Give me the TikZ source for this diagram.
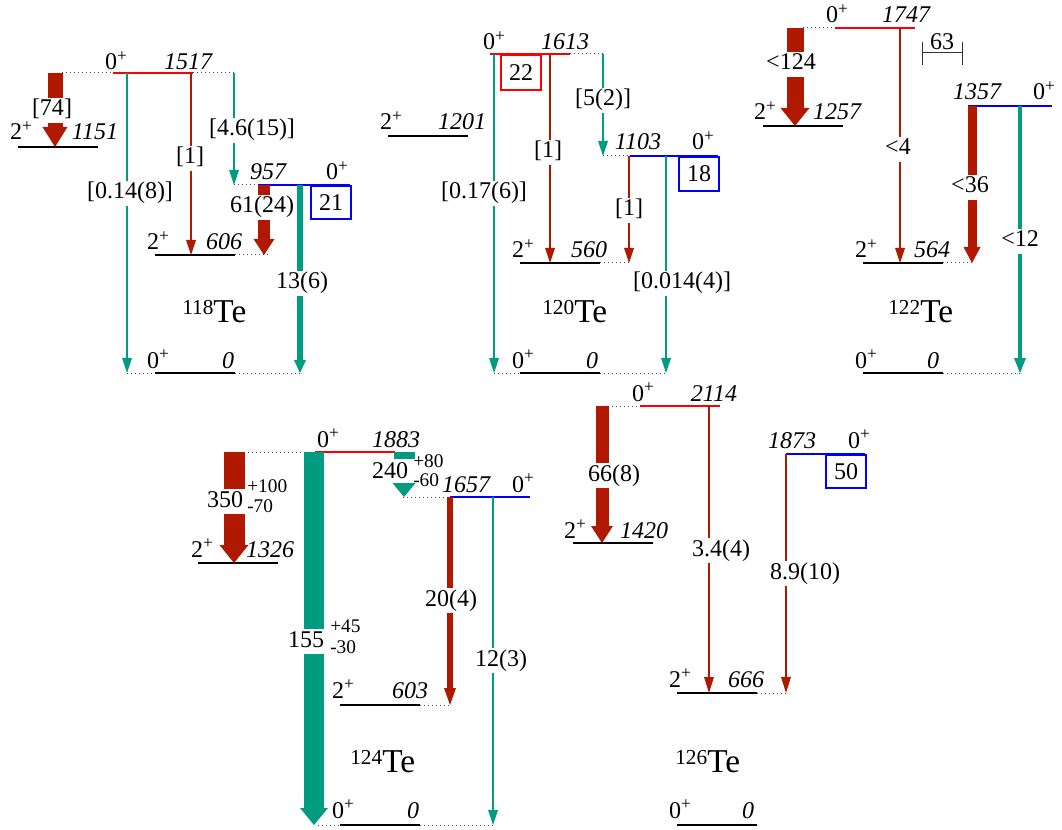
\documentclass[tikz,border=0pt]{standalone}
\usepackage{fontspec}
\setmainfont{Liberation Serif}
\usetikzlibrary{calc}
\definecolor{dred}{RGB}{176,24,0}
\definecolor{gteal}{RGB}{0,155,128}
\definecolor{lred}{RGB}{255,0,0}
\definecolor{lblue}{RGB}{0,0,255}
\newcommand{\lsarrow}[6]{%
  \draw[#1,line width=#4] (#2) -- ($(#3)+(0,-#6+1)$);
  \fill[#1] ($(#3)+(-#5,-#6)$) -- ($(#3)+(#5,-#6)$) -- (#3) -- cycle;}
\newcommand{\plusup}{\raisebox{6.3pt}{\fontsize{13}{13}\selectfont+}}
\newcommand{\Zplus}{0\plusup}
\newcommand{\Tplus}{2\plusup}
\newcommand{\isoTe}[1]{{\fontsize{16}{16}\selectfont\raisebox{6pt}{#1}}{\fontsize{25}{25}\selectfont Te}}
\begin{document}
\begin{tikzpicture}[x=0.75pt,y=-0.75pt,font=\fontsize{18}{20}\selectfont,
  lev/.style={line width=1.5pt},
  blk/.style={lev,black},
  rlev/.style={lev,lred},
  blev/.style={lev,lblue},
  dots/.style={black!70,line width=0.75pt,dash pattern=on 0.75pt off 2.25pt},
  lvl/.style={inner sep=0pt,anchor=base},
  en/.style={lvl,font=\fontsize{18}{20}\selectfont\itshape},
  lab/.style={fill=white,inner xsep=1.5pt,inner ysep=1.2pt,text height=12.5pt,text depth=3.8pt,anchor=base},
  sup/.style={inner sep=0pt,anchor=base west,text height=10pt,text depth=0pt,font=\fontsize{14.5}{15}\selectfont},
  nbox/.style={draw,line width=1.5pt,inner sep=0pt,minimum width=30pt,anchor=north west},
  isolab/.style={inner sep=0pt,anchor=base west},
  meas/.style={black!80,line width=0.75pt}]
\useasboundingbox (0,0) rectangle (1062,830);

% ================= 118Te =================
\draw[rlev] (113,73) -- (193,73);
\draw[blk] (18,147) -- (98,147);
\draw[blev] (258,185) -- (350,185);
\draw[blk] (155,255) -- (235,255);
\draw[blk] (155,373) -- (235,373);
\draw[dots] (62,73) -- (113,73);
\draw[dots] (193,73) -- (234,73);
\draw[dots] (234,185) -- (258,185);
\draw[dots] (235,255) -- (270,255);
\draw[dots] (127,373) -- (155,373);
\draw[dots] (235,373) -- (300,373);

\coordinate (a1s) at (55,73);   \coordinate (a1e) at (55,147);
\coordinate (a2s) at (127,73);  \coordinate (a2e) at (127,373);
\coordinate (a3s) at (191,73);  \coordinate (a3e) at (191,255);
\coordinate (a4s) at (234,73);  \coordinate (a4e) at (234,185);
\coordinate (a5s) at (264,185); \coordinate (a5e) at (264,255);
\coordinate (a6s) at (300,185); \coordinate (a6e) at (300,373);

\lsarrow{dred}{a1s}{a1e}{11.25pt}{12.5}{20}
\node[lab] (ta1) at (52,116) {[74]};
\lsarrow{gteal}{a2s}{a2e}{1.3pt}{5}{15}
\node[lab] (ta2) at (130,199) {[0.14(8)]};
\lsarrow{dred}{a3s}{a3e}{1.3pt}{5}{15}
\node[lab] (ta3) at (190,164) {[1]};
\lsarrow{gteal}{a4s}{a4e}{1.3pt}{5}{15}
\node[lab] (ta4) at (252,136) {[4.6(15)]};
\lsarrow{dred}{a5s}{a5e}{9pt}{10.5}{16}
\node[lab] (ta5) at (262,213) {61(24)};
\lsarrow{gteal}{a6s}{a6e}{4.5pt}{6}{13}
\node[lab] (ta6) at (302,289) {13(6)};

\node[nbox,draw=lblue,minimum height=24.75pt] (b21) at (310,185) {21};

\node[lvl] (s1517) at (116,70) {\Zplus};
\node[en] (e1517) at (188,70) {1517};
\node[lvl] (s1151) at (21,140) {\Tplus};
\node[en] (e1151) at (95,140) {1151};
\node[en] (e957) at (268,180) {957};
\node[lvl] (s957) at (337,180) {\Zplus};
\node[lvl] (s606) at (158,250) {\Tplus};
\node[en] (e606) at (224,250) {606};
\node[lvl] (s0a) at (158,368) {\Zplus};
\node[en] (e0a) at (228,368) {0};
\node[isolab] (te118) at (182,322) {\isoTe{118}};

% ================= 120Te =================
\draw[rlev] (490,54) -- (570,54);
\draw[blk] (388,136) -- (468,136);
\draw[blev] (630,156) -- (718,156);
\draw[blk] (520,263) -- (600,263);
\draw[blk] (520,373) -- (600,373);
\draw[dots] (570,54) -- (603,54);
\draw[dots] (603,156) -- (630,156);
\draw[dots] (600,263) -- (629,263);
\draw[dots] (494,373) -- (520,373);
\draw[dots] (600,373) -- (666,373);

\coordinate (b1s) at (494,54);  \coordinate (b1e) at (494,373);
\coordinate (b2s) at (550,54);  \coordinate (b2e) at (550,263);
\coordinate (b3s) at (603,54);  \coordinate (b3e) at (603,156);
\coordinate (b4s) at (629,156); \coordinate (b4e) at (629,263);
\coordinate (b5s) at (666,156); \coordinate (b5e) at (666,373);

\lsarrow{gteal}{b1s}{b1e}{1.3pt}{5}{15}
\node[lab] (tb1) at (484,199) {[0.17(6)]};
\lsarrow{dred}{b2s}{b2e}{1.3pt}{5}{15}
\node[lab] (tb2) at (548,158) {[1]};
\lsarrow{gteal}{b3s}{b3e}{1.3pt}{5}{15}
\node[lab] (tb3) at (603,106) {[5(2)]};
\lsarrow{dred}{b4s}{b4e}{1.3pt}{5}{15}
\node[lab] (tb4) at (629,216) {[1]};
\lsarrow{gteal}{b5s}{b5e}{1.3pt}{5}{15}
\node[lab] (tb5) at (682,289) {[0.014(4)]};

\node[nbox,draw=lred,minimum height=26.25pt] (b22) at (500,54) {22};
\node[nbox,draw=lblue,minimum height=25.5pt] (b18) at (678,156) {18};

\node[lvl] (s1613) at (494,50) {\Zplus};
\node[en] (e1613) at (565,50) {1613};
\node[lvl] (s1201) at (391,130) {\Tplus};
\node[en] (e1201) at (462,130) {1201};
\node[en] (e1103) at (638,150) {1103};
\node[lvl] (s1103) at (703,150) {\Zplus};
\node[lvl] (s560) at (523,258) {\Tplus};
\node[en] (e560) at (589,258) {560};
\node[lvl] (s0b) at (523,368) {\Zplus};
\node[en] (e0b) at (592,368) {0};
\node[isolab] (te120) at (542,322) {\isoTe{120}};

% ================= 122Te =================
\draw[rlev] (835,28) -- (915,28);
\draw[blk] (763,126) -- (843,126);
\draw[blev] (968,106) -- (1052,106);
\draw[blk] (863,263) -- (943,263);
\draw[blk] (863,373) -- (943,373);
\draw[dots] (803,28) -- (835,28);
\draw[dots] (943,263) -- (972,263);
\draw[dots] (943,373) -- (1020,373);

\coordinate (c1s) at (795,28);   \coordinate (c1e) at (795,126);
\coordinate (c2s) at (900,28);   \coordinate (c2e) at (900,263);
\coordinate (c3s) at (972,106);  \coordinate (c3e) at (972,263);
\coordinate (c4s) at (1020,106); \coordinate (c4e) at (1020,373);

\lsarrow{dred}{c1s}{c1e}{12.75pt}{14.5}{18}
\node[lab] (tc1) at (791,70) {<124};
\lsarrow{dred}{c2s}{c2e}{1.3pt}{5}{15}
\node[lab] (tc2) at (898,155) {<4};
\lsarrow{dred}{c3s}{c3e}{6.75pt}{8.5}{16}
\node[lab] (tc3) at (970,193) {<36};
\lsarrow{gteal}{c4s}{c4e}{3pt}{6}{15}
\node[lab] (tc4) at (1020,247) {<12};

\coordinate (m1) at (922,42); \coordinate (m2) at (922,65);
\coordinate (m3) at (962,42); \coordinate (m4) at (962,65);
\coordinate (m5) at (922,53); \coordinate (m6) at (962,53);
\draw[meas] (m1) -- (m2);
\draw[meas] (m3) -- (m4);
\draw[meas] (m5) -- (m6);
\node[lvl] (t63) at (942,50) {63};

\node[lvl] (s1747) at (837,23) {\Zplus};
\node[en] (e1747) at (906,23) {1747};
\node[lvl] (s1257) at (765,120) {\Tplus};
\node[en] (e1257) at (837,120) {1257};
\node[en] (e1357) at (977,100) {1357};
\node[lvl] (s1357) at (1044,100) {\Zplus};
\node[lvl] (s564) at (866,258) {\Tplus};
\node[en] (e564) at (932,258) {564};
\node[lvl] (s0c) at (866,368) {\Zplus};
\node[en] (e0c) at (933,368) {0};
\node[isolab] (te122) at (888,322) {\isoTe{122}};

% ================= 124Te =================
\draw[rlev] (315,452) -- (395,452);
\draw[blk] (198,563) -- (278,563);
\draw[blev] (450,497) -- (530,497);
\draw[blk] (340,705) -- (420,705);
\draw[blk] (340,825) -- (420,825);
\draw[dots] (244,452) -- (305,452);
\draw[dots] (403,497) -- (450,497);
\draw[dots] (420,705) -- (450,705);
\draw[dots] (318,825) -- (340,825);
\draw[dots] (420,825) -- (493,825);

\coordinate (d1s) at (234,452); \coordinate (d1e) at (234,563);
\coordinate (d2s) at (314,452); \coordinate (d2e) at (314,825);
\coordinate (d3s) at (404,452); \coordinate (d3e) at (404,497);
\coordinate (d4s) at (450,497); \coordinate (d4e) at (450,705);
\coordinate (d5s) at (493,497); \coordinate (d5e) at (493,825);

\lsarrow{dred}{d1s}{d1e}{15.75pt}{14.5}{18}
\node[lab] (td1) at (225,507) {350};
\node[sup] (td1p) at (247,492) {+100};
\node[sup] (td1m) at (247,512) {-70};
\lsarrow{gteal}{d2s}{d2e}{15pt}{14}{17}
\node[lab] (td2) at (306,647) {155};
\node[sup] (td2p) at (330,632) {+45};
\node[sup] (td2m) at (330,653) {-30};
% short block, gap for the label, then the head
\draw[gteal,line width=15.75pt,dash pattern=on 5.25pt off 40pt] (d3s) -- ($(d3e)+(0,-13)$);
\fill[gteal] ($(d3e)+(-11.5,-14)$) -- ($(d3e)+(11.5,-14)$) -- (d3e) -- cycle;
\node[lvl] (td3) at (390,478) {240};
\node[sup] (td3p) at (413,467) {+80};
\node[sup] (td3m) at (413,486) {-60};
\lsarrow{dred}{d4s}{d4e}{4.5pt}{6}{17}
\node[lab] (td4) at (451,606) {20(4)};
\lsarrow{gteal}{d5s}{d5e}{1.3pt}{5}{15}
\node[lab] (td5) at (501,666) {12(3)};

\node[lvl] (s1883) at (328,447) {\Zplus};
\node[en] (e1883) at (396,447) {1883};
\node[lvl] (s1326) at (202,557) {\Tplus};
\node[en] (e1326) at (270,557) {1326};
\node[en] (e1657) at (466,492) {1657};
\node[lvl] (s1657) at (523,492) {\Zplus};
\node[lvl] (s603) at (343,698) {\Tplus};
\node[en] (e603) at (410,698) {603};
\node[lvl] (s0d) at (343,818) {\Zplus};
\node[en] (e0d) at (413,818) {0};
\node[isolab] (te124) at (350,772) {\isoTe{124}};

% ================= 126Te =================
\draw[rlev] (640,406) -- (720,406);
\draw[blk] (573,543) -- (653,543);
\draw[blev] (786,454) -- (865,454);
\draw[blk] (677,693) -- (757,693);
\draw[blk] (677,825) -- (757,825);
\draw[dots] (608,406) -- (640,406);
\draw[dots] (757,693) -- (786,693);

\coordinate (e1s) at (602,406); \coordinate (e1e) at (602,543);
\coordinate (e2s) at (709,406); \coordinate (e2e) at (709,693);
\coordinate (e3s) at (786,454); \coordinate (e3e) at (786,693);

\lsarrow{dred}{e1s}{e1e}{9.75pt}{11}{17}
\node[lab] (te1) at (614,481) {66(8)};
\lsarrow{dred}{e2s}{e2e}{1.35pt}{5}{16}
\node[lab] (te2) at (721,556) {3.4(4)};
\lsarrow{dred}{e3s}{e3e}{2pt}{5}{16}
\node[lab] (te3) at (805,579) {8.9(10)};

\node[nbox,draw=lblue,minimum height=24.75pt] (b50) at (825,454) {50};

\node[lvl] (s2114) at (643,401) {\Zplus};
\node[en] (e2114) at (714,401) {2114};
\node[lvl] (s1420) at (575,538) {\Tplus};
\node[en] (e1420) at (644,538) {1420};
\node[en] (e1873) at (792,448) {1873};
\node[lvl] (s1873) at (859,448) {\Zplus};
\node[lvl] (s666) at (680,687) {\Tplus};
\node[en] (e666) at (746,687) {666};
\node[lvl] (s0e) at (680,818) {\Zplus};
\node[en] (e0e) at (748,818) {0};
\node[isolab] (te126) at (675,772) {\isoTe{126}};
\end{tikzpicture}
\end{document}
